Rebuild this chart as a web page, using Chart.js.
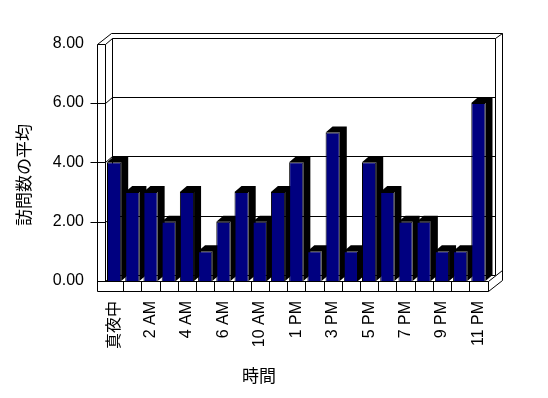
<!DOCTYPE html>
<html lang="ja">
<head>
<meta charset="UTF-8">
<title>訪問数の平均</title>
<script src="https://cdn.jsdelivr.net/npm/chart.js"></script>
<style>
    body { margin: 0; background: #fff; }
    #chart { display: block; }
</style>
</head>
<body>
<canvas id="chart" width="548" height="398"></canvas>
<script>
    // data
    const categories = ["真夜中", "1 AM", "2 AM", "3 AM", "4 AM", "5 AM", "6 AM", "9 AM", "10 AM", "12 PM",
        "1 PM", "2 PM", "3 PM", "4 PM", "5 PM", "6 PM", "7 PM", "8 PM", "9 PM", "10 PM", "11 PM"];
    const visits = [4, 3, 3, 2, 3, 1, 2, 3, 2, 3, 4, 1, 5, 1, 4, 3, 2, 2, 1, 1, 6];
    const yTicks = [0, 2, 4, 6, 8];
    const xTitle = "時間";
    const yTitle = "訪問数の平均";

    const tickFont = { family: "'Liberation Sans', Arial, 'Noto Sans CJK JP', sans-serif", size: 16 };
    const titleFont = "17px 'Noto Sans CJK JP', sans-serif";

    // 3D look: depth offset of the box and the bars
    const DX = 7, DY = -6;      // front -> back plane
    const OX = 14, OY = -11;    // outer side of the walls
    const WT = 8, FT = 10;      // left wall / floor thickness

    const px = v => Math.round(v) + 0.5;

    function line(ctx, pts) {
        ctx.beginPath();
        ctx.moveTo(px(pts[0][0]), px(pts[0][1]));
        for (let i = 1; i < pts.length; i++) ctx.lineTo(px(pts[i][0]), px(pts[i][1]));
        ctx.stroke();
    }

    const box3d = {
        id: "box3d",
        beforeDatasetsDraw(chart) {
            const ctx = chart.ctx;
            const { left: L, right: R, top: T, bottom: B } = chart.chartArea;
            const ys = chart.scales.y, xs = chart.scales.x;
            ctx.save();
            ctx.strokeStyle = "#000";
            ctx.lineWidth = 1;

            // back wall, outer edges
            line(ctx, [[L - WT + OX, T + OY], [R + OX, T + OY], [R + OX, B + FT + OY]]);
            line(ctx, [[R + DX, T + DY], [R + OX, T + OY]]);
            // back wall inner face
            line(ctx, [[L + DX, B + DY], [L + DX, T + DY], [R + DX, T + DY], [R + DX, B + DY], [L + DX, B + DY]]);
            // left wall
            line(ctx, [[L - WT, B + FT], [L - WT, T], [L, T], [L, B]]);
            line(ctx, [[L - WT, T], [L - WT + OX, T + OY]]);
            line(ctx, [[L, T], [L + DX, T + DY]]);
            // floor
            line(ctx, [[L - WT, B], [R, B], [R, B + FT], [L - WT, B + FT]]);
            line(ctx, [[L, B], [L + DX, B + DY]]);
            line(ctx, [[R, B], [R + OX, B + OY]]);
            line(ctx, [[R, B + FT], [R + OX, B + FT + OY]]);

            // gridlines on the back wall + tick marks
            yTicks.forEach(v => {
                if (v === yTicks[0] || v === yTicks[yTicks.length - 1]) return;
                const y = ys.getPixelForValue(v);
                line(ctx, [[L - WT - 7, y], [L, y], [L + DX, y + DY], [R + DX, y + DY]]);
            });

            // category dividers on the floor front
            for (let i = 1; i < categories.length; i++) {
                const x = (xs.getPixelForTick(i - 1) + xs.getPixelForTick(i)) / 2;
                line(ctx, [[x, B], [x, B + FT]]);
            }

            // bar sides and tops
            ctx.fillStyle = "#000";
            chart.getDatasetMeta(0).data.forEach(el => {
                const { x, y, base, width } = el.getProps(["x", "y", "base", "width"], true);
                const xl = x - width / 2, xr = x + width / 2;
                ctx.beginPath();
                ctx.moveTo(xl, y);
                ctx.lineTo(xl + DX, y + DY);
                ctx.lineTo(xr + DX, y + DY);
                ctx.lineTo(xr + DX, base + DY);
                ctx.lineTo(xr, base);
                ctx.lineTo(xr, y);
                ctx.closePath();
                ctx.fill();
            });
            ctx.restore();
        },
        afterDraw(chart) {
            // axis titles
            const ctx = chart.ctx;
            ctx.save();
            ctx.fillStyle = "#000";
            ctx.font = titleFont;
            ctx.textAlign = "center";
            ctx.textBaseline = "middle";
            ctx.fillText(xTitle, 259, 376);
            ctx.translate(24, 175);
            ctx.rotate(-Math.PI / 2);
            ctx.fillText(yTitle, 0, 0);
            ctx.restore();
        }
    };

    new Chart(document.getElementById("chart"), {
        type: "bar",
        data: {
            labels: categories,
            datasets: [{
                data: visits,
                backgroundColor: "#000080",
                borderColor: "#000",
                borderWidth: 1,
                categoryPercentage: 1,
                barPercentage: 0.78
            }]
        },
        options: {
            responsive: false,
            animation: false,
            layout: { padding: { top: 43.5, right: 60.5, left: 0, bottom: 0 } },
            plugins: { legend: { display: false }, tooltip: { enabled: false } },
            scales: {
                x: {
                    grid: { display: false, drawTicks: false },
                    border: { display: false },
                    ticks: {
                        autoSkip: false,
                        minRotation: 90,
                        maxRotation: 90,
                        padding: 20,
                        color: "#000",
                        font: tickFont,
                        callback: (v, i) => i % 2 === 0 ? categories[i] : ""
                    },
                    afterFit: s => { s.height = 117; }
                },
                y: {
                    min: yTicks[0],
                    max: yTicks[yTicks.length - 1],
                    grid: { display: false, drawTicks: false },
                    border: { display: false },
                    ticks: {
                        stepSize: 2,
                        padding: 21,
                        color: "#000",
                        font: tickFont,
                        callback: v => v.toFixed(2)
                    },
                    afterFit: s => { s.width = 105; }
                }
            }
        },
        plugins: [box3d]
    });
</script>
</body>
</html>
